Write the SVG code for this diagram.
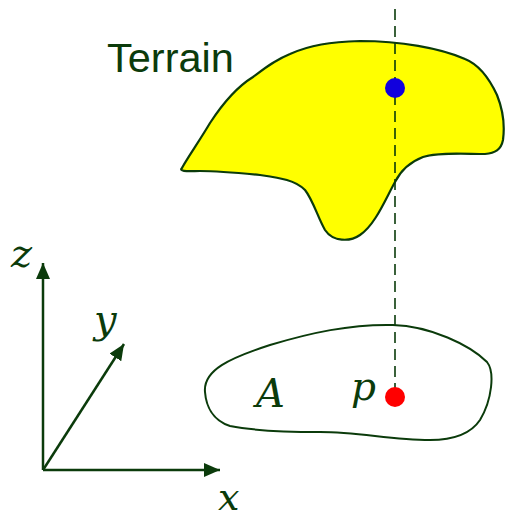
<svg xmlns="http://www.w3.org/2000/svg" width="505" height="519" viewBox="0 0 505 519">
<style>
.outline{stroke:#0b3b0b;stroke-width:2;fill:none}
.axis{stroke:#0b3b0b;stroke-width:2.5;fill:none}
.math{font-family:"DejaVu Serif","Liberation Serif",serif;font-style:italic;fill:#0b3b0b}
.label{font-family:"Liberation Sans",Arial,sans-serif;fill:#0b3b0b}
</style>
<defs>
<marker id="ah" viewBox="0 0 16 14" refX="16" refY="7" markerWidth="16" markerHeight="14" markerUnits="userSpaceOnUse" orient="auto">
<path d="M0,0 L16,7 L0,14 Z" fill="#0b3b0b"/>
</marker>
</defs>
<g id="terrain">
<path d="M182,168 C186,160 200,140 210,123 C225,100 240,85 253,77 C265,68 275,60 290,54 C310,45 330,42 360,41 C400,41 440,48 465,59 C480,65 490,80 497,95 C503,110 505,125 503,140 C501,150 495,153 485,154 C465,154 440,152 423,157 C410,162 400,172 395,182 C385,200 375,225 360,235 C350,242 333,242 325,230 C318,218 313,200 305,190 C295,180 280,178 260,175 C240,173 220,171 200,171 C190,171 178,172 182,168 Z" fill="#ffff00" stroke="#0b3b0b" stroke-width="2.2"/>
<text class="label" x="107" y="72" font-size="41.5">Terrain</text>
</g>
<g id="area">
<path class="outline" d="M205,392 C203,370 230,358 270,345 C310,333 350,324 393,325 C430,326 470,345 487,362 C495,372 492,400 480,420 C470,435 450,440 430,440 C390,440 360,432 320,432 C280,432 250,430 230,426 C212,420 206,405 205,392 Z"/>
<text class="math" x="256" y="407" font-size="40">A</text>
<text class="math" x="351" y="400" font-size="39">p</text>
</g>
<g id="connectors">
<line x1="395" y1="9" x2="395" y2="397" stroke="#0b3b0b" stroke-width="1.6" stroke-dasharray="11,6"/>
<line class="axis" x1="43" y1="470" x2="43" y2="263" marker-end="url(#ah)"/>
<line class="axis" x1="43" y1="470" x2="220" y2="470" marker-end="url(#ah)"/>
<line class="axis" x1="43" y1="470" x2="124" y2="344" marker-end="url(#ah)"/>
</g>
<g id="points">
<circle cx="395" cy="88" r="10" fill="#1100dd"/>
<circle cx="395" cy="397" r="10" fill="#ff0000"/>
</g>
<g id="axis-labels">
<text class="math" x="11" y="267" font-size="40">z</text>
<text class="math" x="94" y="333" font-size="40">y</text>
<text class="math" x="218" y="510" font-size="38">x</text>
</g>
</svg>
